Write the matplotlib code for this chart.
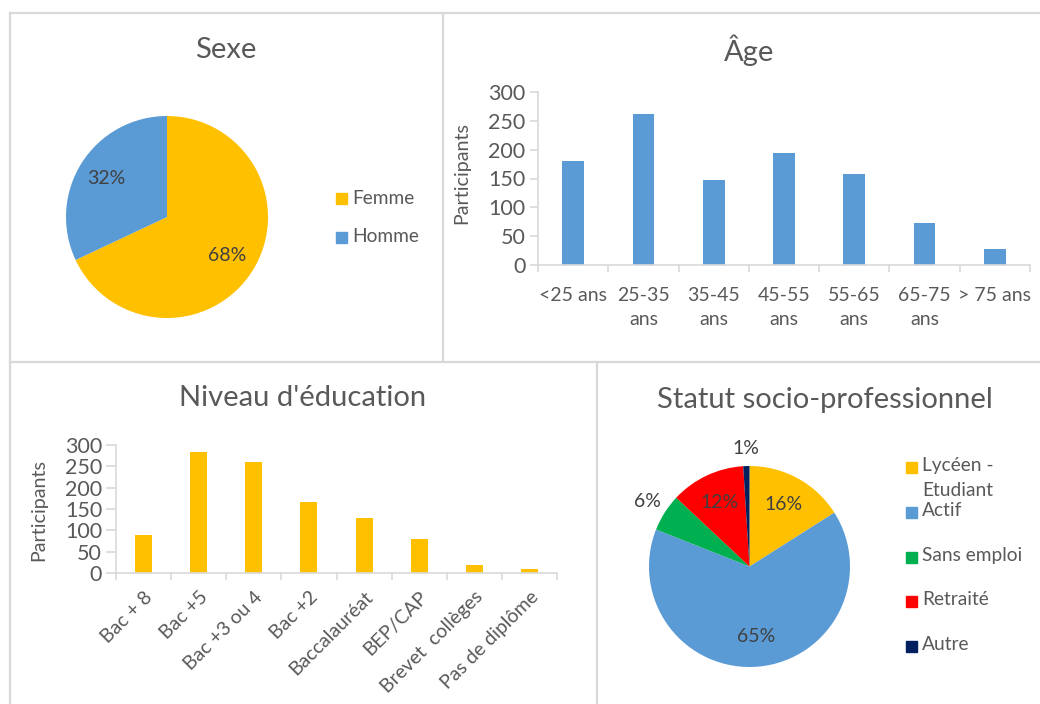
import numpy as np
import matplotlib.pyplot as plt
from matplotlib.lines import Line2D
from matplotlib.patches import Rectangle

plt.rcParams['font.family'] = ['Lato', 'DejaVu Sans']

# données
sexe_labels = ["Femme", "Homme"]
sexe_vals = [68, 32]
sexe_colors = ["#FFC000", "#5B9BD5"]

age_labels = ["<25 ans", "25-35\nans", "35-45\nans", "45-55\nans", "55-65\nans", "65-75\nans", "> 75 ans"]
age_vals = [180, 261, 147, 194, 158, 72, 28]

edu_labels = ["Bac + 8", "Bac +5", "Bac +3 ou 4", "Bac +2", "Baccalauréat", "BEP/CAP", "Brevet  collèges", "Pas de diplôme"]
edu_vals = [88, 283, 261, 167, 128, 80, 18, 9]

statut_labels = ["Lycéen -\nEtudiant", "Actif", "Sans emploi", "Retraité", "Autre"]
statut_vals = [16, 65, 6, 12, 1]
statut_colors = ["#FFC000", "#5B9BD5", "#00B050", "#FF0000", "#002060"]

W, H = 1040, 704
TXT = "#595959"
GRID = "#D9D9D9"

def box(l, t, r, b):
    return [l / W, 1 - b / H, (r - l) / W, (b - t) / H]

def fx(x):
    return x / W

def fy(y):
    return 1 - y / H

fig = plt.figure(figsize=(W / 100, H / 100), dpi=100)

# cadres
for (x0, y0, x1, y1) in [(10, 13, 1040, 13), (10, 13, 10, 704), (443, 13, 443, 362),
                         (10, 362, 1040, 362), (597, 362, 597, 704)]:
    fig.add_artist(Line2D([fx(x0), fx(x1)], [fy(y0), fy(y1)], color=GRID, lw=1.6))

# --- Sexe ---
fig.text(fx(226), fy(50), "Sexe", ha="center", va="center", fontsize=21, color=TXT)
ax1 = fig.add_axes(box(66, 116, 268, 318))
w, t, at = ax1.pie(sexe_vals, colors=sexe_colors, startangle=90, counterclock=False,
                   autopct="%1.0f%%", pctdistance=0.71, radius=1.0,
                   textprops=dict(fontsize=14, color="#404040"))
ax1.set_xlim(-1, 1)
ax1.set_ylim(-1, 1)
for i, lab in enumerate(sexe_labels):
    y = 198 + i * 39
    fig.add_artist(Rectangle((fx(336), fy(y + 5.5)), 11 / W, 11 / H, color=sexe_colors[i]))
    fig.text(fx(352), fy(y), lab, ha="left", va="center", fontsize=13.8, color=TXT)

# --- Age ---
fig.text(fx(749), fy(50), "Âge", ha="center", va="center", fontsize=21, color=TXT)
ax2 = fig.add_axes(box(538, 92, 1030, 265))
x = np.arange(len(age_vals))
ax2.bar(x, age_vals, width=0.31, color="#5B9BD5")
ax2.set_xlim(-0.5, len(age_vals) - 0.5)
ax2.set_ylim(0, 300)
ax2.set_yticks(range(0, 301, 50))
ax2.set_xticks(x)
ax2.set_xticklabels(age_labels, linespacing=1.45, va="top")
ax2.set_xticks(np.arange(-0.5, len(age_vals), 1), minor=True)
ax2.set_ylabel("Participants", fontsize=14.2, color=TXT)
ax2.yaxis.set_label_coords(-0.138, 0.532)

# --- Niveau d'éducation ---
fig.text(fx(303), fy(398), "Niveau d'éducation", ha="center", va="center", fontsize=21, color=TXT)
ax3 = fig.add_axes(box(116, 445, 557, 573))
x = np.arange(len(edu_vals))
ax3.bar(x, edu_vals, width=0.31, color="#FFC000")
ax3.set_xlim(-0.5, len(edu_vals) - 0.5)
ax3.set_ylim(0, 300)
ax3.set_yticks(range(0, 301, 50))
ax3.set_xticks(x)
ax3.set_xticklabels(edu_labels, rotation=45, ha="right", va="top", rotation_mode="anchor")
ax3.set_xticks(np.arange(-0.5, len(edu_vals), 1), minor=True)
ax3.set_ylabel("Participants", fontsize=14.2, color=TXT)
ax3.yaxis.set_label_coords(-0.156, 0.49)

for ax in (ax2, ax3):
    for s in ("top", "right"):
        ax.spines[s].set_visible(False)
    for s in ("left", "bottom"):
        ax.spines[s].set_color(GRID)
        ax.spines[s].set_linewidth(1.2)
    ax.tick_params(axis="y", colors=GRID, labelcolor=TXT, labelsize=15.5, length=6, width=1.2, pad=3)
    ax.tick_params(axis="x", which="major", length=0, labelcolor=TXT, labelsize=14, pad=16)
    ax.tick_params(axis="x", which="minor", length=5, width=1.2, colors=GRID)
ax3.tick_params(axis="y", length=7)
ax3.tick_params(axis="x", which="major", pad=11, labelsize=14)

# --- Statut socio-professionnel ---
fig.text(fx(825), fy(400), "Statut socio-professionnel", ha="center", va="center", fontsize=21, color=TXT)
ax4 = fig.add_axes(box(649, 466, 850, 667))
w, t, at = ax4.pie(statut_vals, colors=statut_colors, startangle=90, counterclock=False,
                   autopct="%1.0f%%", pctdistance=0.70, radius=1.0,
                   textprops=dict(fontsize=14, color="#404040"))
ax4.set_xlim(-1, 1)
ax4.set_ylim(-1, 1)
for wedge, txt, v in zip(w, at, statut_vals):
    if v < 10:
        ang = np.deg2rad((wedge.theta1 + wedge.theta2) / 2)
        txt.set_position((1.2 * np.cos(ang), 1.2 * np.sin(ang)))
        if v == 1:
            txt.set_position((-0.04, 1.17))
ys = [467, 512, 557, 601, 646]
for i, lab in enumerate(statut_labels):
    y = ys[i]
    fig.add_artist(Rectangle((fx(906), fy(y + 5.5)), 11 / W, 11 / H, color=statut_colors[i]))
    fig.text(fx(922), fy(y - 10), lab, ha="left", va="top", fontsize=13.8, color=TXT, linespacing=1.6)

fig.savefig("out.png", dpi=100)
